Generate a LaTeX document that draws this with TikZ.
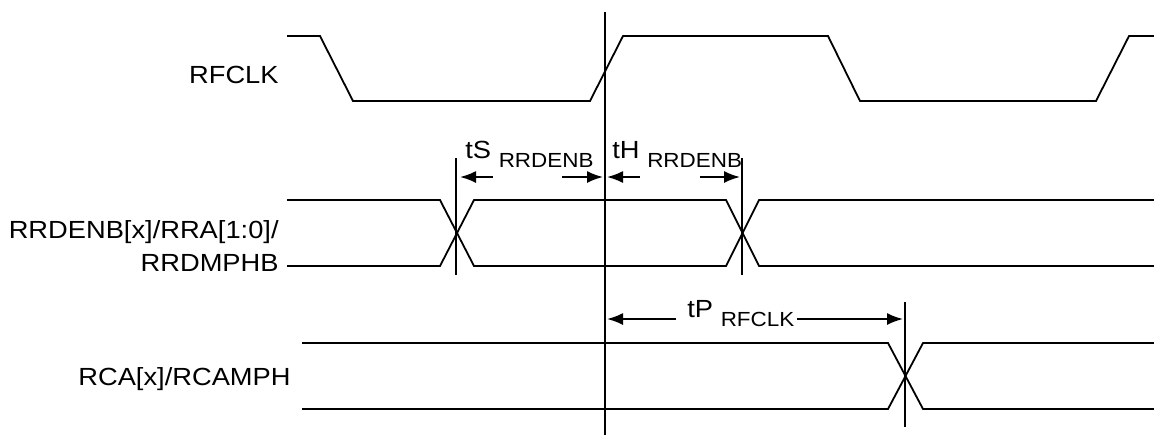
\documentclass[tikz,border=0pt]{standalone}
\usepackage{fontspec}
\setmainfont{Liberation Sans}[FakeStretch=1.1]
\usetikzlibrary{arrows.meta,positioning}

\newcommand{\tsub}[1]{\raisebox{-4.8pt}{\fontsize{10.2}{12}\selectfont #1}}

\begin{document}
\begin{tikzpicture}[
  x=0.5pt, y=-0.5pt,
  >={Latex[length=8pt,width=6pt]},
  wave/.style={draw=black, line width=0.9pt, line join=miter},
  marker/.style={draw=black, line width=0.9pt},
  dimarrow/.style={->, draw=black, line width=0.9pt},
  siglabel/.style={inner sep=0pt, font=\fontsize{12.4}{16.5}\selectfont, align=right},
  timelabel/.style={inner sep=0pt, anchor=base west, font=\fontsize{12.4}{14}\selectfont}
]
  \fill[white] (0,0) rectangle (1154,435);
  \useasboundingbox (0,0) rectangle (1154,435);

  % signal names
  \node[siglabel, anchor=base east] (clkname) at (279,83) {RFCLK};
  \node[siglabel, anchor=east] (enbname) at (279,246) {RRDENB[x]/RRA[1:0]/\\RRDMPHB};
  \node[siglabel, anchor=base east] (rcaname) at (291,385) {RCA[x]/RCAMPH};

  % RFCLK
  \draw[wave] (287,36) -- (320,36) -- (353,101) -- (590,101) -- (623,36) -- (828,36)
    -- (860,101) -- (1096,101) -- (1129,36) -- (1154,36);

  % RRDENB bus
  \draw[wave] (287,200) -- (440,200) -- (474,266) -- (726,266) -- (759,200) -- (1154,200);
  \draw[wave] (287,266) -- (440,266) -- (474,200) -- (726,200) -- (759,266) -- (1154,266);

  % RCA bus
  \draw[wave] (302,343) -- (888,343) -- (923,409) -- (1154,409);
  \draw[wave] (302,409) -- (888,409) -- (923,343) -- (1154,343);

  % reference lines
  \coordinate (edgetop) at (605,12);
  \coordinate (edgebot) at (605,435);
  \coordinate (setuptop) at (456,158);
  \coordinate (setupbot) at (456,275);
  \coordinate (holdtop) at (742,158);
  \coordinate (holdbot) at (742,275);
  \coordinate (proptop) at (905,302);
  \coordinate (propbot) at (905,427);
  \draw[marker] (edgetop) -- (edgebot);
  \draw[marker] (setuptop) -- (setupbot);
  \draw[marker] (holdtop) -- (holdbot);
  \draw[marker] (proptop) -- (propbot);

  % setup / hold
  \node[timelabel] (tsu) at (465,158) {tS \tsub{RRDENB}};
  \node[timelabel] (thd) at (612,158) {tH \tsub{RRDENB}};
  \coordinate (su1) at (493,177);
  \coordinate (su2) at (562,177);
  \coordinate (hd1) at (640,177);
  \coordinate (hd2) at (700,177);
  \draw[dimarrow] (su1) -- (460,177);
  \draw[dimarrow] (su2) -- (603,177);
  \draw[dimarrow] (hd1) -- (607,177);
  \draw[dimarrow] (hd2) -- (740,177);

  % clock to output
  \node[timelabel] (tpd) at (687,317) {tP \tsub{RFCLK}};
  \coordinate (pd1) at (676,319);
  \coordinate (pd2) at (797,319);
  \draw[dimarrow] (pd1) -- (607,319);
  \draw[dimarrow] (pd2) -- (903,319);
\end{tikzpicture}
\end{document}
